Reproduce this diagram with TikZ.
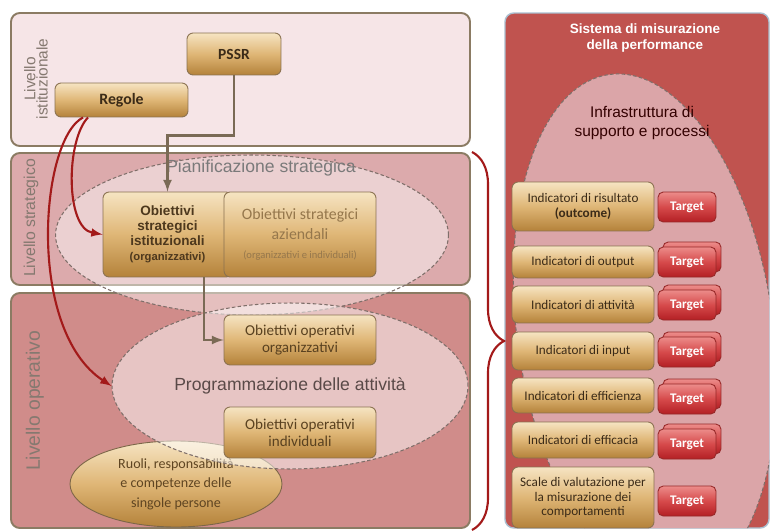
\documentclass[tikz,border=0pt]{standalone}
\usepackage{fontspec}
\setmainfont{Liberation Sans}
\newfontfamily\cali{Carlito}
\usetikzlibrary{shapes.geometric,decorations.pathreplacing}

\definecolor{frame}{HTML}{8B7B63}
\definecolor{inst}{HTML}{F6E5E7}
\definecolor{strat}{HTML}{DCAAAC}
\definecolor{oper}{HTML}{D08C8A}
\definecolor{perf}{HTML}{C0534F}
\definecolor{perfline}{HTML}{A9BFD0}
\definecolor{infra}{HTML}{DBA5A8}
\definecolor{zoneline}{HTML}{7F6F6A}
\definecolor{goldtop}{HTML}{F6E4C2}
\definecolor{goldmid}{HTML}{DFB676}
\definecolor{goldbot}{HTML}{B4823A}
\definecolor{goldline}{HTML}{8A7150}
\definecolor{boxtext}{HTML}{3B2B18}
\definecolor{tgttop}{HTML}{EC8C8A}
\definecolor{tgtmid}{HTML}{D64A4B}
\definecolor{tgtbot}{HTML}{B31F24}
\definecolor{tgtline}{HTML}{962828}
\definecolor{lvltext}{HTML}{857970}
\definecolor{progtext}{HTML}{5A4A48}
\definecolor{darkred}{HTML}{A31A1A}
\definecolor{arrowgray}{HTML}{7A6A55}

\begin{document}
\begin{tikzpicture}[x=0.02cm, y=-0.02cm, line width=1pt,
  panel/.style={draw=frame, line width=1.1pt, rounded corners=5pt},
  zone/.style={draw=zoneline, line width=0.6pt, dash pattern=on 2pt off 1.3pt, fill=white, fill opacity=0.45, text opacity=1, ellipse, inner sep=0pt},
  goldbox/.style={draw=goldline, line width=0.5pt, rounded corners=3.5pt, top color=goldtop, bottom color=goldbot, middle color=goldmid, text=boxtext, align=center, inner sep=1pt},
  ind/.style={goldbox, minimum width=2.84cm, font=\cali\fontsize{7.5}{8.5}\selectfont},
  tgt/.style={draw=tgtline, line width=0.5pt, rounded corners=3pt, top color=tgttop, bottom color=tgtbot, middle color=tgtmid, text=white, minimum width=1.16cm, minimum height=0.6cm, inner sep=0pt, font=\cali\bfseries\fontsize{7.5}{9}\selectfont},
  lvl/.style={rotate=90, text=lvltext, align=center, inner sep=0pt}]
\useasboundingbox (0,0) rectangle (772,531);

\draw[panel, fill=inst] (11,13) rectangle (470,146);
\draw[panel, fill=strat] (11,153) rectangle (470,285);
\draw[panel, fill=oper] (11,293) rectangle (470,528);
\draw[draw=perfline, line width=0.8pt, fill=perf, rounded corners=5pt] (505,13) rectangle (769,528);

\begin{scope}
\clip[rounded corners=5pt] (505,13) rectangle (769,528);
\draw[draw=zoneline, line width=0.6pt, dash pattern=on 2pt off 1.3pt, fill=infra, rotate around={8:(645,330)}] (645,330) ellipse [x radius=2.56cm, y radius=5.16cm];
\end{scope}

\node[lvl, font=\fontsize{8.8}{7}\selectfont] (lvinst) at (36,79) {Livello\\istituzionale};
\node[lvl, font=\fontsize{9}{10}\selectfont] (lvstrat) at (31,218) {Livello strategico};
\node[lvl, font=\fontsize{11}{12}\selectfont] (lvoper) at (35,401) {Livello operativo};

\node[goldbox, font=\cali\bfseries\fontsize{8.8}{10}\selectfont, minimum width=1.88cm, minimum height=0.84cm] (pssr) at (234,54) {PSSR};
\node[goldbox, font=\cali\bfseries\fontsize{9}{10}\selectfont, minimum width=2.66cm, minimum height=0.68cm] (regole) at (121.5,100) {Regole};

\node[zone, minimum width=7.86cm, minimum height=3.2cm] (plan) at (252,235) {};
\node[text=black!52, font=\fontsize{10}{12}\selectfont] (plantitle) at (261,168) {Pianificazione strategica};

\node[goldbox, ellipse, inner sep=0pt, draw=goldline!90!black, text=boxtext!70!goldbot, font=\cali\fontsize{8}{11}\selectfont, minimum width=4.24cm, minimum height=1.72cm] (ruoli) at (176,484) {Ruoli, responsabilità\\e competenze delle\\singole persone};

\node[zone, fill opacity=0.5, minimum width=7.12cm, minimum height=3.32cm, text=progtext, font=\fontsize{10}{12}\selectfont] (prog) at (290,386) {Programmazione delle attività};

\node[goldbox, text=boxtext!85!goldbot, font=\bfseries\fontsize{7.7}{8.6}\selectfont, minimum width=2.58cm, minimum height=1.7cm] (osi) at (167.5,234.5) {Obiettivi\\strategici\\istituzionali\\{\fontsize{6.4}{7.5}\selectfont(organizzativi)}};
\node[goldbox, text=boxtext!45!goldmid, font=\cali\fontsize{9}{11}\selectfont, minimum width=3.04cm, minimum height=1.7cm] (osa) at (300,234.5) {Obiettivi strategici\\aziendali\\{\fontsize{6}{7}\selectfont(organizzativi e individuali)}};
\node[goldbox, text=boxtext!75!goldbot, font=\cali\fontsize{8.6}{9.8}\selectfont, minimum width=3.04cm, minimum height=1.0cm] (ooo) at (300,340) {Obiettivi operativi\\organizzativi};
\node[goldbox, text=boxtext!75!goldbot, font=\cali\fontsize{8.6}{9.8}\selectfont, minimum width=3.04cm, minimum height=1.02cm] (ooi) at (300,432.5) {Obiettivi operativi\\individuali};

\draw[arrowgray, line width=1.3pt] [->] [>=latex] (pssr.south) -- ++(0,60) -| (osi.north);
\draw[arrowgray, line width=1.3pt] [->] [>=latex] ([xshift=0.73cm]osi.south) |- (ooo.west);
\draw[darkred, line width=1.2pt] [->] [>=latex] ([xshift=-0.67cm]regole.south) .. controls (66,140) and (65,228) .. (osi.west);
\draw[darkred, line width=1.2pt] [->] [>=latex] ([xshift=-0.77cm]regole.south) .. controls (40,140) and (26,330) .. (prog.west);

\coordinate (bracetop) at (472,152);
\coordinate (bracebot) at (472,530);
\draw[darkred, line width=1.2pt, decorate, decoration={brace, amplitude=0.64cm}] (bracetop) -- (bracebot);

\node[text=white, align=center, font=\bfseries\fontsize{7.7}{8.6}\selectfont] (perftitle) at (645,38) {Sistema di misurazione\\della performance};
\node[text=black!80!red, align=center, font=\fontsize{8.8}{11.2}\selectfont] (infratitle) at (642,123) {Infrastruttura di\\supporto e processi};

\node[ind, minimum height=0.98cm] (ind1) at (583,206.5) {Indicatori di risultato\\\textbf{(outcome)}};
\node[ind, minimum height=0.64cm] (ind2) at (583,262) {Indicatori di output};
\node[ind, minimum height=0.74cm] (ind3) at (583,304.5) {Indicatori di attività};
\node[ind, minimum height=0.76cm] (ind4) at (583,351) {Indicatori di input};
\node[ind, minimum height=0.70cm] (ind5) at (583,395.5) {Indicatori di efficienza};
\node[ind, minimum height=0.72cm] (ind6) at (583,440) {Indicatori di efficacia};
\node[ind, minimum height=1.22cm, font=\cali\fontsize{7.5}{8.4}\selectfont] (ind7) at (583,497.5) {Scale di valutazione per\\la misurazione dei\\comportamenti};

\node[tgt] (t1) at (687,207) {Target};
\node[tgt] (t2b) at (692,257) {};
\node[tgt] (t2) at (687,262) {Target};
\node[tgt] (t3b) at (692,300) {};
\node[tgt] (t3) at (687,305) {Target};
\node[tgt] (t4b) at (692,347) {};
\node[tgt] (t4) at (687,352) {Target};
\node[tgt] (t5b) at (692,394) {};
\node[tgt] (t5) at (687,399) {Target};
\node[tgt] (t6b) at (692,439) {};
\node[tgt] (t6) at (687,444) {Target};
\node[tgt] (t7) at (687,501) {Target};
\end{tikzpicture}
\end{document}
